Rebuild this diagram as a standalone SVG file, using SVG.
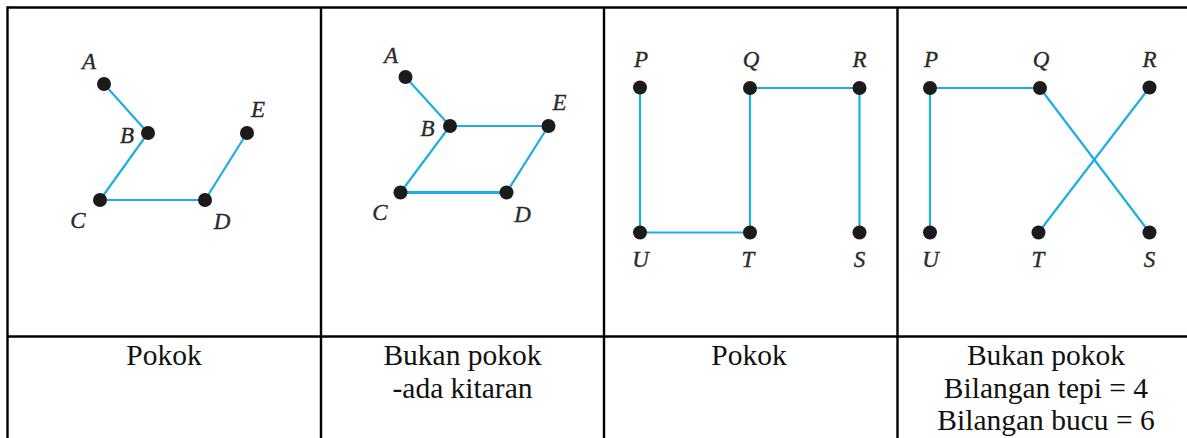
<svg xmlns="http://www.w3.org/2000/svg" width="1187" height="438" viewBox="0 0 1187 438">
<style>
.grid{stroke:#000;stroke-width:2.4;fill:none}
.e{stroke:#1eaee6;stroke-width:2.2;fill:none;stroke-linecap:round}
.v{fill:#1b1b1b}
.lb{font-family:"Liberation Serif","Times New Roman",serif;font-style:italic;font-size:23px;fill:#2a2a2a;stroke:#2a2a2a;stroke-width:0.35;text-anchor:middle}
.cap{font-family:"Liberation Serif","Times New Roman",serif;font-size:29.5px;fill:#111;text-anchor:middle}
</style>
<rect width="1187" height="438" fill="#fff"/>
<g id="table" class="grid">
<line x1="7.5" y1="7.5" x2="1195" y2="7.5"/>
<line x1="7.5" y1="6.3" x2="7.5" y2="438"/>
<line x1="321" y1="7.5" x2="321" y2="438"/>
<line x1="604" y1="7.5" x2="604" y2="438"/>
<line x1="897.5" y1="7.5" x2="897.5" y2="438"/>
<line x1="7.5" y1="336.5" x2="1195" y2="336.5"/>
</g>
<g id="connectors">
<!-- graph 1 -->
<line class="e" x1="104" y1="84" x2="148" y2="133"/>
<line class="e" x1="148" y1="133" x2="100" y2="200"/>
<line class="e" x1="100" y1="200" x2="205" y2="200"/>
<line class="e" x1="205" y1="200" x2="247" y2="133"/>
<!-- graph 2 -->
<line class="e" x1="405.5" y1="77" x2="450" y2="126"/>
<line class="e" x1="450" y1="126" x2="548.5" y2="126"/>
<line class="e" x1="450" y1="126" x2="400.5" y2="192.5"/>
<line class="e" x1="400.5" y1="192.5" x2="506.5" y2="192.5" style="stroke-width:2.8"/>
<line class="e" x1="506.5" y1="192.5" x2="548.5" y2="126"/>
<!-- graph 3 -->
<line class="e" x1="640" y1="87.5" x2="640" y2="232.5"/>
<line class="e" x1="640" y1="232.5" x2="750" y2="232.5"/>
<line class="e" x1="750" y1="232.5" x2="750" y2="88"/>
<line class="e" x1="750" y1="88" x2="859.5" y2="88"/>
<line class="e" x1="859.5" y1="88" x2="859.5" y2="232.5"/>
<!-- graph 4 -->
<line class="e" x1="930" y1="88" x2="1040" y2="88"/>
<line class="e" x1="930" y1="88" x2="930" y2="232.5"/>
<line class="e" x1="1040" y1="88" x2="1149.5" y2="232.5"/>
<line class="e" x1="1149.5" y1="87.5" x2="1038.5" y2="232.5"/>
</g>
<g id="g1">
<g id="g1-A"><circle class="v" cx="104" cy="84" r="7"/><text class="lb" x="89" y="68.5">A</text></g>
<g id="g1-B"><circle class="v" cx="148" cy="133" r="7"/><text class="lb" x="127" y="142.5">B</text></g>
<g id="g1-C"><circle class="v" cx="100" cy="200" r="7"/><text class="lb" x="78" y="228">C</text></g>
<g id="g1-D"><circle class="v" cx="205" cy="200" r="7"/><text class="lb" x="222" y="229">D</text></g>
<g id="g1-E"><circle class="v" cx="247" cy="133" r="7"/><text class="lb" x="258" y="117">E</text></g>
</g>
<g id="g2">
<g id="g2-A"><circle class="v" cx="405.5" cy="77" r="7"/><text class="lb" x="391" y="63">A</text></g>
<g id="g2-B"><circle class="v" cx="450" cy="126" r="7"/><text class="lb" x="427.5" y="135.5">B</text></g>
<g id="g2-C"><circle class="v" cx="400.5" cy="192.5" r="7"/><text class="lb" x="380" y="220">C</text></g>
<g id="g2-D"><circle class="v" cx="506.5" cy="192.5" r="7"/><text class="lb" x="522.5" y="221.5">D</text></g>
<g id="g2-E"><circle class="v" cx="548.5" cy="126" r="7"/><text class="lb" x="559.5" y="109.5">E</text></g>
</g>
<g id="g3">
<g id="g3-P"><circle class="v" cx="640" cy="87.5" r="7"/><text class="lb" x="641" y="66.5">P</text></g>
<g id="g3-Q"><circle class="v" cx="750" cy="88" r="7"/><text class="lb" x="751" y="66.5">Q</text></g>
<g id="g3-R"><circle class="v" cx="859.5" cy="88" r="7"/><text class="lb" x="859.5" y="66.5">R</text></g>
<g id="g3-U"><circle class="v" cx="640" cy="232.5" r="7"/><text class="lb" x="640.5" y="266.5">U</text></g>
<g id="g3-T"><circle class="v" cx="750" cy="232.5" r="7"/><text class="lb" x="748" y="266.5">T</text></g>
<g id="g3-S"><circle class="v" cx="859.5" cy="232.5" r="7"/><text class="lb" x="859.5" y="266.5">S</text></g>
</g>
<g id="g4">
<g id="g4-P"><circle class="v" cx="930" cy="88" r="7"/><text class="lb" x="931" y="66.5">P</text></g>
<g id="g4-Q"><circle class="v" cx="1040" cy="88" r="7"/><text class="lb" x="1041" y="66.5">Q</text></g>
<g id="g4-R"><circle class="v" cx="1149.5" cy="87.5" r="7"/><text class="lb" x="1149.5" y="66.5">R</text></g>
<g id="g4-U"><circle class="v" cx="930" cy="232.5" r="7"/><text class="lb" x="930.5" y="266.5">U</text></g>
<g id="g4-T"><circle class="v" cx="1038.5" cy="232.5" r="7"/><text class="lb" x="1038" y="266.5">T</text></g>
<g id="g4-S"><circle class="v" cx="1149.5" cy="232.5" r="7"/><text class="lb" x="1149.5" y="266.5">S</text></g>
</g>
<g id="captions">
<text class="cap" x="164" y="364.5">Pokok</text>
<text class="cap" x="462.5" y="364.5">Bukan pokok</text>
<text class="cap" x="462.5" y="397.5">-ada kitaran</text>
<text class="cap" x="749" y="364.5">Pokok</text>
<text class="cap" x="1046" y="364.5">Bukan pokok</text>
<text class="cap" x="1046" y="397.5">Bilangan tepi = 4</text>
<text class="cap" x="1046" y="430">Bilangan bucu = 6</text>
</g>
</svg>
